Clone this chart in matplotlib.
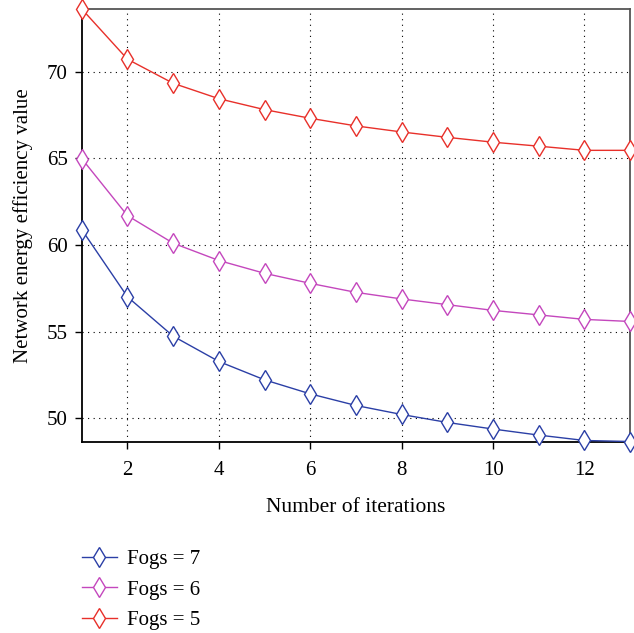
import matplotlib
matplotlib.use("Agg")
import matplotlib.pyplot as plt

# data
iterations = [1, 2, 3, 4, 5, 6, 7, 8, 9, 10, 11, 12, 13]
fogs_7 = [60.88, 57.0, 54.73, 53.27, 52.21, 51.40, 50.73, 50.21, 49.75, 49.37, 49.02, 48.71, 48.65]
fogs_6 = [64.98, 61.69, 60.1, 59.1, 58.36, 57.78, 57.26, 56.88, 56.55, 56.22, 55.96, 55.7, 55.58]
fogs_5 = [73.62, 70.72, 69.33, 68.44, 67.81, 67.31, 66.87, 66.52, 66.21, 65.93, 65.70, 65.46, 65.46]
labels = ["Fogs = 7", "Fogs = 6", "Fogs = 5"]
colors = ["#2b3fa6", "#c447bd", "#e8302a"]
x_ticks = [2, 4, 6, 8, 10, 12]
y_ticks = [50, 55, 60, 65, 70]

plt.rcParams["font.family"] = ["Liberation Serif", "DejaVu Serif"]

fig = plt.figure(figsize=(6.34, 6.33), dpi=100)
ax = fig.add_axes([0.129, 0.3025, 0.865, 0.6833])

for ys, lab, col in zip([fogs_7, fogs_6, fogs_5], labels, colors):
    ax.plot(iterations, ys, color=col, lw=1.0, marker="d", markersize=10,
            markerfacecolor="white", markeredgecolor=col, markeredgewidth=1.0,
            label=lab, clip_on=False, zorder=3)

ax.set_xlim(1, 13)
ax.set_ylim(48.65, 73.62)
ax.set_xticks(x_ticks)
ax.set_yticks(y_ticks)
ax.grid(True, linestyle=(0, (1, 4)), color="black", linewidth=0.8)
ax.tick_params(labelsize=15, direction="out", length=5, width=1)
ax.tick_params(axis="x", pad=9)
ax.tick_params(axis="y", pad=5)

for side in ["left", "bottom"]:
    ax.spines[side].set_linewidth(1.3)
    ax.spines[side].set_color("black")
for side in ["top", "right"]:
    ax.spines[side].set_linewidth(1.3)
    ax.spines[side].set_color("#555555")

ax.set_xlabel("Number of iterations", fontsize=15.5, labelpad=13)
ax.set_ylabel("Network energy efficiency value", fontsize=15, labelpad=10)

fig.legend(loc="upper left", bbox_to_anchor=(0.1155, 0.145), frameon=False,
           fontsize=15, handlelength=1.7, labelspacing=0.52, handletextpad=0.5,
           borderaxespad=0)

fig.savefig("out.png", dpi=100)
